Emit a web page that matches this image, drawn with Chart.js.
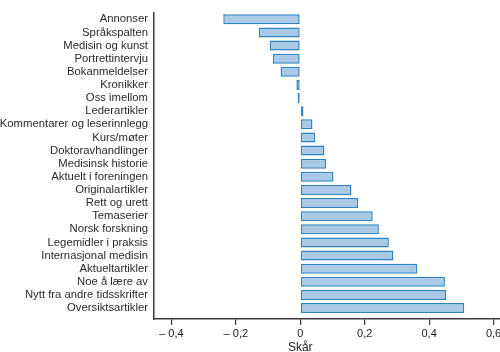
<!DOCTYPE html>
<html>
<head>
<meta charset="utf-8">
<script src="https://cdn.jsdelivr.net/npm/chart.js@4/dist/chart.umd.min.js"></script>
<style>
  html, body { margin: 0; padding: 0; background: #fff; }
  #wrap { width: 500px; height: 352px; }
</style>
</head>
<body>
<div id="wrap"><canvas id="mycanvas"></canvas></div>
<script>
var categories = [
    "Annonser", "Språkspalten", "Medisin og kunst", "Portrettintervju",
    "Bokanmeldelser", "Kronikker", "Oss imellom", "Lederartikler",
    "Kommentarer og leserinnlegg", "Kurs/møter", "Doktoravhandlinger",
    "Medisinsk historie", "Aktuelt i foreningen", "Originalartikler",
    "Rett og urett", "Temaserier", "Norsk forskning", "Legemidler i praksis",
    "Internasjonal medisin", "Aktueltartikler", "Noe å lære av",
    "Nytt fra andre tidsskrifter", "Oversiktsartikler"
];
var scores = [
    -0.239, -0.129, -0.095, -0.085, -0.061, -0.012, -0.008, 0.010,
    0.038, 0.046, 0.075, 0.080, 0.103, 0.159, 0.180, 0.225, 0.244,
    0.275, 0.289, 0.363, 0.449, 0.453, 0.509
];
var xTicks = [-0.4, -0.2, 0, 0.2, 0.4, 0.6];
var xTitle = "Skår";

var fontFamily = "'Liberation Sans', Arial, sans-serif";
var axisColor = '#3a3a3a';

// draws the axis title under the zero tick, like the original
var titlePlugin = {
    id: 'skarTitle',
    afterDraw: function(chart) {
        var ctx = chart.ctx;
        var x = chart.scales.x.getPixelForValue(0);
        ctx.save();
        ctx.font = '12px ' + fontFamily;
        ctx.fillStyle = '#222';
        ctx.textAlign = 'center';
        ctx.textBaseline = 'middle';
        ctx.fillText(xTitle, x, 348);
        ctx.restore();
    }
};

var chartdata = {
    labels: categories,
    datasets: [{
        label: xTitle,
        data: scores,
        backgroundColor: '#a9c9e6',
        borderColor: '#2f85bf',
        borderWidth: 1.5,
        borderSkipped: false,
        barPercentage: 0.76,
        categoryPercentage: 1
    }]
};

var ctx = document.getElementById('mycanvas');

var barGraph = new Chart(ctx, {
    type: 'bar',
    data: chartdata,
    plugins: [titlePlugin],
    options: {
        indexAxis: 'y',
        responsive: true,
        maintainAspectRatio: false,
        animation: false,
        layout: { padding: { top: 3.5, right: 0, left: 0, bottom: 0 } },
        plugins: {
            legend: { display: false },
            tooltip: { enabled: false }
        },
        scales: {
            x: {
                type: 'linear',
                min: -0.454,
                max: 0.62,
                afterBuildTicks: function(scale) {
                    scale.ticks = xTicks.map(function(v) { return { value: v }; });
                },
                afterFit: function(scale) {
                    scale.height = 33;
                    scale.paddingRight = 0;
                    scale.paddingLeft = 0;
                },
                grid: {
                    display: true,
                    drawOnChartArea: false,
                    drawTicks: true,
                    tickLength: 6,
                    color: axisColor,
                    lineWidth: 1.2
                },
                border: { display: true, color: axisColor, width: 1.5 },
                ticks: {
                    padding: 2,
                    color: '#222',
                    font: { family: fontFamily, size: 11 },
                    callback: function(v) {
                        if (Math.abs(v) < 1e-9) return '0';
                        var s = Math.abs(v).toFixed(1).replace('.', ',');
                        return v < 0 ? '– ' + s : s;
                    }
                }
            },
            y: {
                type: 'category',
                offset: true,
                afterFit: function(scale) { scale.width = 154; },
                // leave a small gap between last bar and the x axis
                afterBuildTicks: function(scale) { scale._valueRange += 0.33; },
                grid: { display: false, drawTicks: false },
                border: { display: true, color: axisColor, width: 1.5 },
                ticks: {
                    padding: 6,
                    color: '#2a2a2a',
                    autoSkip: false,
                    font: { family: fontFamily, size: 11.3 }
                }
            }
        }
    }
});
</script>
</body>
</html>
